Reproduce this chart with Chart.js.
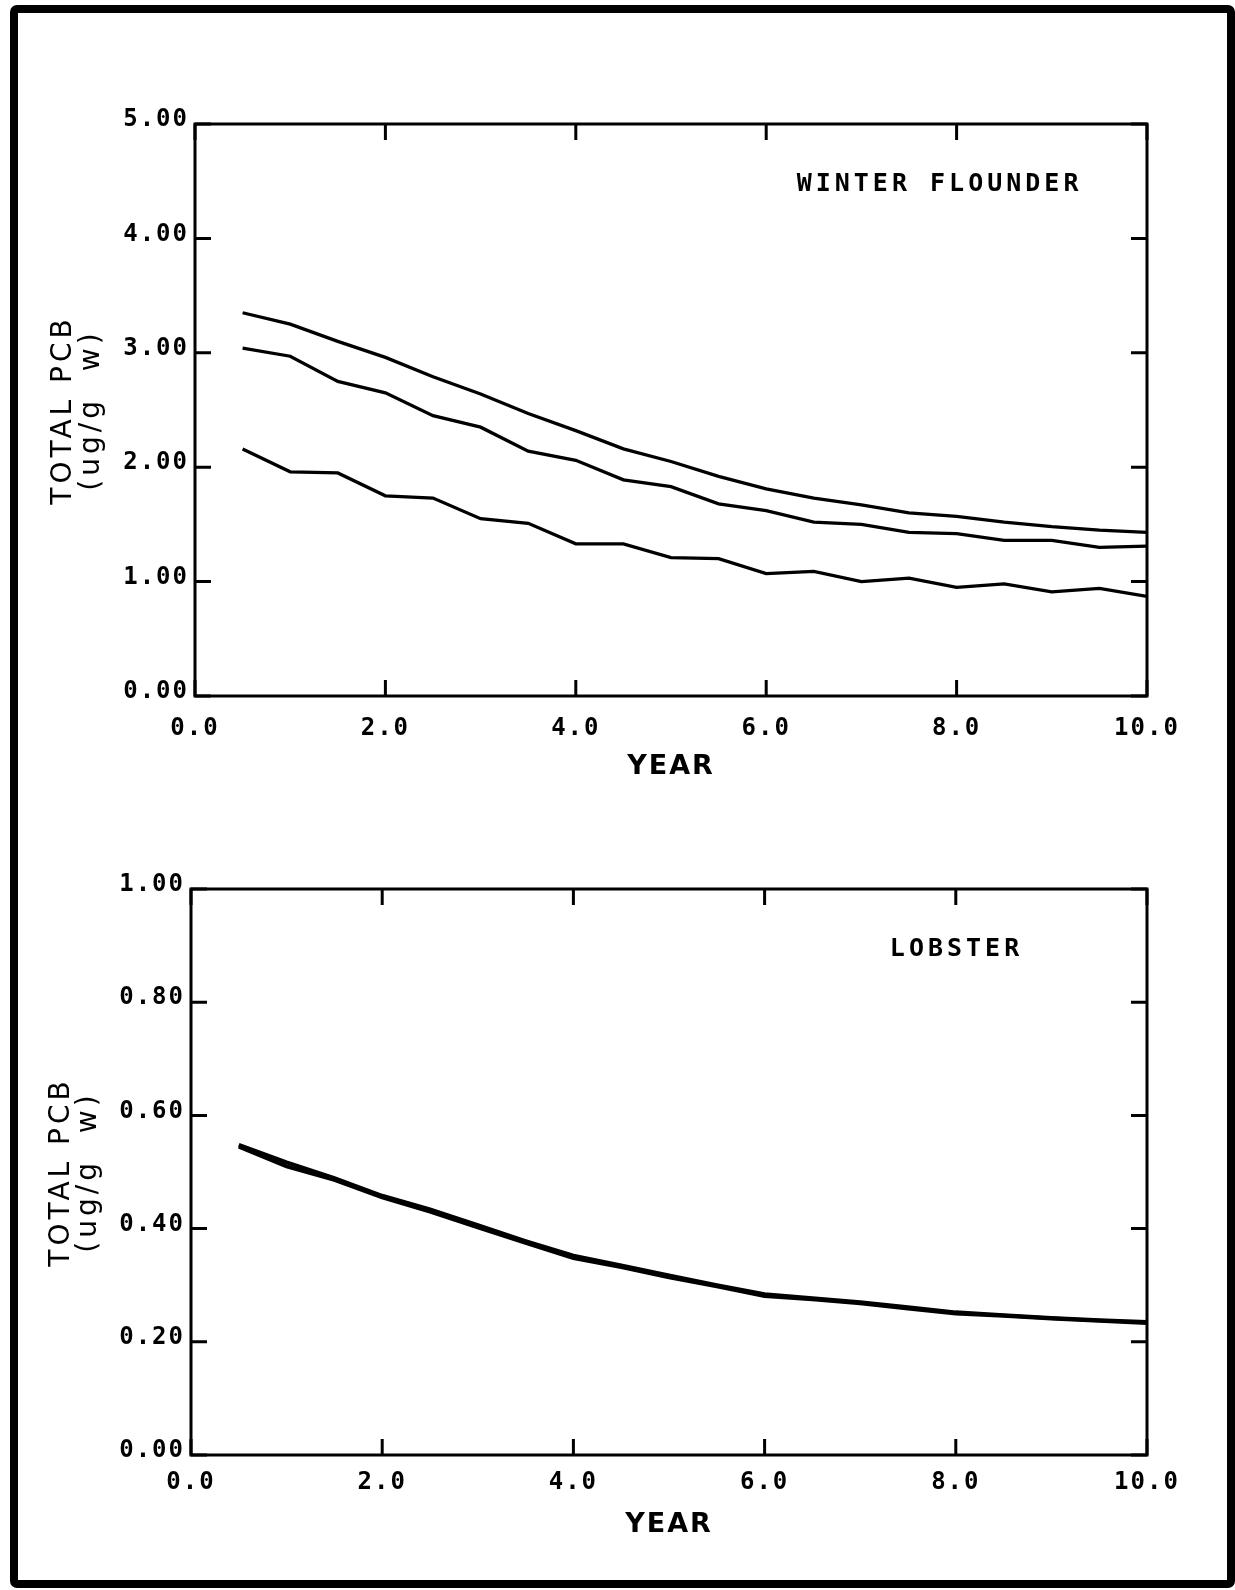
<!DOCTYPE html>
<html>
<head>
<meta charset="utf-8">
<script src="https://cdn.jsdelivr.net/npm/chart.js@4.4.1/dist/chart.umd.min.js"></script>
<style>
  html, body { margin: 0; padding: 0; background: #fff; }
  body { width: 1235px; height: 1590px; position: relative; overflow: hidden; }
  #frame { position: absolute; left: 10px; top: 5px; width: 1209px; height: 1567px; border: 8px solid #000; border-radius: 7px; }
  canvas { position: absolute; left: 0; }
  #c1 { top: 0; }
  #c2 { top: 800px; }
</style>
</head>
<body>
<div id="frame"></div>
<canvas id="c1" width="1235" height="800"></canvas>
<canvas id="c2" width="1235" height="790"></canvas>
<script>
// years of simulation (every half year)
const years = [0.5, 1.0, 1.5, 2.0, 2.5, 3.0, 3.5, 4.0, 4.5, 5.0, 5.5, 6.0, 6.5, 7.0, 7.5, 8.0, 8.5, 9.0, 9.5, 10.0];

// winter flounder, total PCB (ug/g w)
const flounderHigh = [3.35, 3.25, 3.10, 2.96, 2.79, 2.64, 2.47, 2.32, 2.16, 2.05, 1.92, 1.81, 1.73, 1.67, 1.60, 1.57, 1.52, 1.48, 1.45, 1.43];
const flounderMid  = [3.04, 2.97, 2.75, 2.65, 2.45, 2.35, 2.14, 2.06, 1.89, 1.83, 1.68, 1.62, 1.52, 1.50, 1.43, 1.42, 1.36, 1.36, 1.30, 1.31];
const flounderLow  = [2.16, 1.96, 1.95, 1.75, 1.73, 1.55, 1.51, 1.33, 1.33, 1.21, 1.20, 1.07, 1.09, 1.00, 1.03, 0.95, 0.98, 0.91, 0.94, 0.87];

// lobster, total PCB (ug/g w) - the curves almost coincide
const lobsterA = [0.548, 0.517, 0.489, 0.458, 0.434, 0.406, 0.378, 0.352, 0.335, 0.317, 0.300, 0.284, 0.277, 0.270, 0.261, 0.252, 0.247, 0.242, 0.238, 0.235];
const lobsterB = [0.545, 0.510, 0.486, 0.455, 0.430, 0.402, 0.375, 0.348, 0.332, 0.314, 0.298, 0.281, 0.275, 0.268, 0.259, 0.250, 0.246, 0.241, 0.237, 0.233];

// tick labels
const yearTicks = [0, 2, 4, 6, 8, 10];
const flounderTicks = [0, 1, 2, 3, 4, 5];
const lobsterTicks = [0, 0.2, 0.4, 0.6, 0.8, 1.0];

const yTitle = ['TOTAL PCB', '(ug/g  w)'];

const tickFont = { family: 'DejaVu Sans Mono', size: 24, weight: 'bold' };

function pts(ys) {
    return years.map((x, i) => ({ x: x, y: ys[i] }));
}

function serie(ys, w) {
    return { data: pts(ys), borderColor: '#000', borderWidth: w, pointRadius: 0, fill: false, tension: 0 };
}

// frame, inward ticks, vertical title and the species label
const plotterDecor = {
    id: 'plotterDecor',
    beforeDraw(chart) {
        chart.ctx.letterSpacing = '2px';
    },
    afterDraw(chart, args, opts) {
        const ctx = chart.ctx;
        const a = chart.chartArea;
        const xs = chart.scales.x;
        const ys = chart.scales.y;
        ctx.save();
        ctx.strokeStyle = '#000';
        ctx.lineWidth = 3;
        ctx.strokeRect(a.left, a.top, a.right - a.left, a.bottom - a.top);
        ctx.beginPath();
        const len = 16;
        xs.ticks.forEach(t => {
            const px = xs.getPixelForValue(t.value);
            ctx.moveTo(px, a.bottom); ctx.lineTo(px, a.bottom - len);
            ctx.moveTo(px, a.top); ctx.lineTo(px, a.top + len);
        });
        ys.ticks.forEach(t => {
            const py = ys.getPixelForValue(t.value);
            ctx.moveTo(a.left, py); ctx.lineTo(a.left + len, py);
            ctx.moveTo(a.right, py); ctx.lineTo(a.right - len, py);
        });
        ctx.stroke();

        ctx.fillStyle = '#000';
        ctx.font = '28px "DejaVu Sans"';
        ctx.letterSpacing = '4px';
        ctx.textAlign = 'center';
        ctx.textBaseline = 'alphabetic';
        const cy = (a.top + a.bottom) / 2;
        yTitle.forEach((line, i) => {
            ctx.save();
            ctx.translate(a.left - opts.titleGap[i], cy);
            ctx.rotate(-Math.PI / 2);
            ctx.fillText(line, 0, 0);
            ctx.restore();
        });

        ctx.font = 'bold 25px "DejaVu Sans Mono"';
        ctx.letterSpacing = '4px';
        ctx.textAlign = 'left';
        ctx.fillText(opts.label, xs.getPixelForValue(opts.labelAt[0]), ys.getPixelForValue(opts.labelAt[1]));
        ctx.restore();
    }
};

function crearGrafico(id, datasets, yTicks, yMax, s) {
    const ctx = document.getElementById(id).getContext('2d');
    return new Chart(ctx, {
        type: 'line',
        data: { datasets: datasets },
        options: {
            responsive: false,
            animation: false,
            devicePixelRatio: 1,
            layout: { padding: { top: s.top, right: 88, bottom: 0, left: 0 } },
            plugins: {
                legend: { display: false },
                tooltip: { enabled: false },
                plotterDecor: { label: s.label, labelAt: s.labelAt, titleGap: s.titleGap }
            },
            scales: {
                x: {
                    type: 'linear',
                    min: 0,
                    max: 10,
                    afterBuildTicks: scale => { scale.ticks = yearTicks.map(v => ({ value: v })); },
                    afterFit: scale => { scale.height = s.xHeight; },
                    grid: { display: false },
                    border: { display: false },
                    ticks: {
                        color: '#000',
                        font: tickFont,
                        padding: s.xTickPad,
                        maxRotation: 0,
                        callback: v => Number(v).toFixed(1)
                    },
                    title: {
                        display: true,
                        text: 'YEAR',
                        color: '#000',
                        font: { family: 'DejaVu Sans', size: 27, weight: 'bold' },
                        padding: { top: 0, bottom: s.xTitlePad }
                    }
                },
                y: {
                    type: 'linear',
                    min: 0,
                    max: yMax,
                    afterBuildTicks: scale => { scale.ticks = yTicks.map(v => ({ value: v })); },
                    afterFit: scale => { scale.width = s.yWidth; },
                    grid: { display: false },
                    border: { display: false },
                    ticks: {
                        color: '#000',
                        font: tickFont,
                        padding: -2,
                        labelOffset: -4,
                        callback: v => Number(v).toFixed(2)
                    }
                }
            }
        },
        plugins: [plotterDecor]
    });
}

crearGrafico('c1',
    [serie(flounderHigh, 3.3), serie(flounderMid, 3.3), serie(flounderLow, 3.3)],
    flounderTicks, 5,
    { top: 124, yWidth: 195, xHeight: 104, xTickPad: 10, xTitlePad: 17,
      label: 'WINTER FLOUNDER', labelAt: [6.32, 4.41], titleGap: [124, 96] });

crearGrafico('c2',
    [serie(lobsterA, 4), serie(lobsterB, 4)],
    lobsterTicks, 1.0,
    { top: 89, yWidth: 191, xHeight: 135, xTickPad: 5, xTitlePad: 49,
      label: 'LOBSTER', labelAt: [7.31, 0.881], titleGap: [122, 95] });
</script>
</body>
</html>
